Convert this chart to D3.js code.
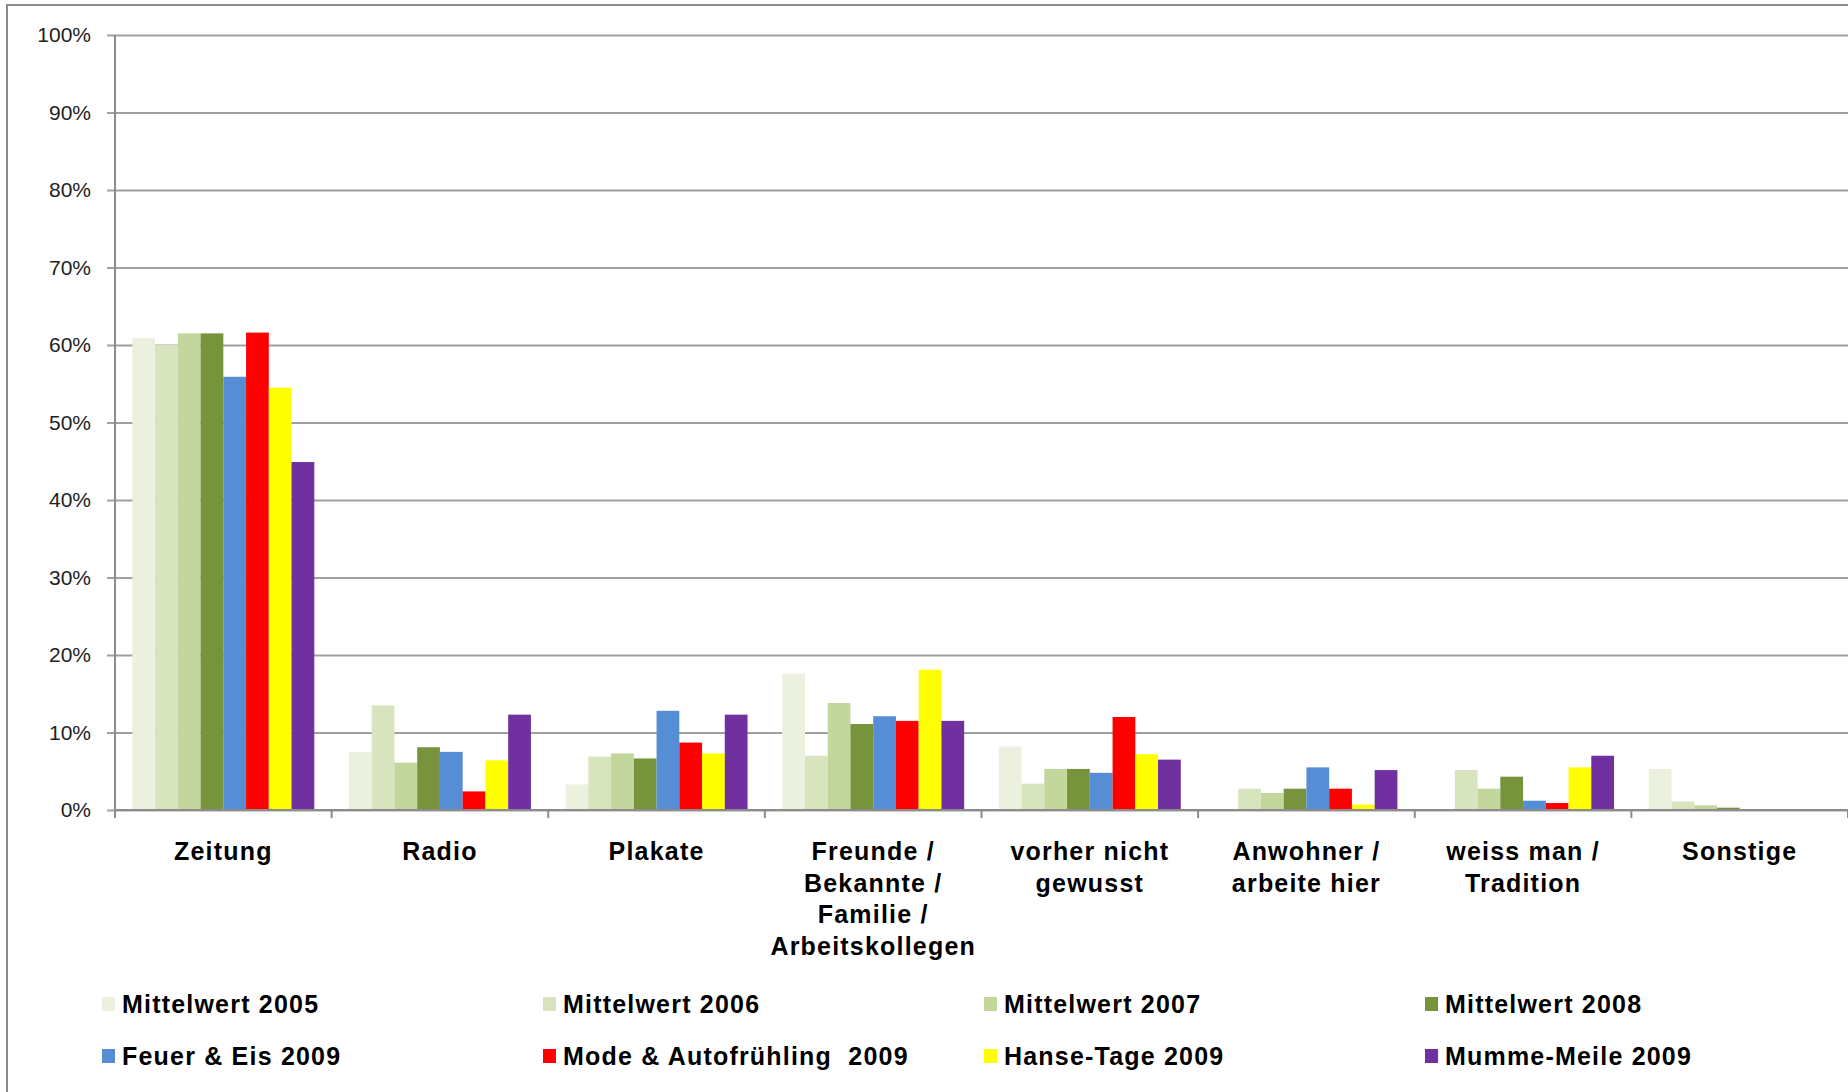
<!DOCTYPE html>
<html>
<head>
<meta charset="utf-8">
<script src="https://cdn.jsdelivr.net/npm/d3@7"></script>
<style>
  body { margin: 0; background: #fff; }
  svg { display: block; font-family: "Liberation Sans", Arial, sans-serif; }
</style>
</head>
<body>
<svg id="chart"></svg>
<script>
// Categories (x axis), line breaks as in the original
var categories = [
  ["Zeitung"],
  ["Radio"],
  ["Plakate"],
  ["Freunde /", "Bekannte /", "Familie /", "Arbeitskollegen"],
  ["vorher nicht", "gewusst"],
  ["Anwohner /", "arbeite hier"],
  ["weiss man /", "Tradition"],
  ["Sonstige"]
];

var seriesNames = [
  "Mittelwert 2005",
  "Mittelwert 2006",
  "Mittelwert 2007",
  "Mittelwert 2008",
  "Feuer & Eis 2009",
  "Mode & Autofrühling  2009",
  "Hanse-Tage 2009",
  "Mumme-Meile 2009"
];

var seriesColors = ["#ebf1de", "#d7e4bd", "#c3d69b", "#77933c", "#558ed5", "#ff0000", "#ffff00", "#7030a0"];

// Values in percent, one array per series, in category order
var mittelwert2005 = [60.9, 7.5, 3.3, 17.6, 8.2, 0, 0, 5.3];
var mittelwert2006 = [60.0, 13.5, 6.9, 7.0, 3.4, 2.75, 5.15, 1.1];
var mittelwert2007 = [61.5, 6.1, 7.3, 13.8, 5.3, 2.2, 2.75, 0.6];
var mittelwert2008 = [61.5, 8.1, 6.65, 11.1, 5.3, 2.75, 4.3, 0.3];
var feuerEis2009 = [55.9, 7.5, 12.8, 12.1, 4.8, 5.5, 1.2, 0];
var modeAuto2009 = [61.6, 2.4, 8.7, 11.5, 12.0, 2.75, 0.9, 0];
var hanseTage2009 = [54.5, 6.4, 7.3, 18.1, 7.2, 0.7, 5.5, 0];
var mummeMeile2009 = [44.9, 12.3, 12.3, 11.5, 6.5, 5.15, 7.0, 0];

var seriesValues = [mittelwert2005, mittelwert2006, mittelwert2007, mittelwert2008,
                    feuerEis2009, modeAuto2009, hanseTage2009, mummeMeile2009];

var yTicks = [0, 10, 20, 30, 40, 50, 60, 70, 80, 90, 100];

var width = 1848;
var height = 1092;
var margin = { left: 115, right: 0, top: 35, bottom: 282 };

var svg = d3.select("#chart").attr("width", width).attr("height", height);

// outer frame (right and bottom are cut off in the original)
svg.append("path")
  .attr("d", "M7,1092 L7,5 L1848,5")
  .attr("fill", "none")
  .attr("stroke", "#8c8c8c")
  .attr("stroke-width", 2);

var x0 = d3.scaleBand()
  .domain(d3.range(categories.length))
  .range([margin.left, width - margin.right])
  .paddingInner(0.16)
  .paddingOuter(0.08);

var x1 = d3.scaleBand()
  .domain(d3.range(seriesNames.length))
  .range([0, x0.bandwidth()]);

var y = d3.scaleLinear()
  .domain([0, 100])
  .range([height - margin.bottom, margin.top]);

// gridlines + y axis
var yAxis = d3.axisLeft(y)
  .tickValues(yTicks)
  .tickFormat(d => d + "%")
  .tickSize(-(width - margin.left - margin.right))
  .tickPadding(24);

var gy = svg.append("g")
  .attr("transform", "translate(" + margin.left + ",0)")
  .call(yAxis);
gy.select(".domain").remove();
gy.selectAll(".tick line")
  .attr("x1", -8)
  .attr("stroke", "#a0a0a0")
  .attr("stroke-width", 2);
gy.selectAll(".tick text")
  .attr("font-size", 21)
  .attr("fill", "#222")
  .attr("font-family", "Liberation Sans, Arial, sans-serif");

// y axis line
svg.append("line")
  .attr("x1", margin.left).attr("x2", margin.left)
  .attr("y1", y(100)).attr("y2", y(0) + 8)
  .attr("stroke", "#8c8c8c")
  .attr("stroke-width", 2);

// bars
var groups = svg.append("g")
  .selectAll("g")
  .data(categories)
  .enter()
  .append("g")
    .attr("transform", (d, i) => "translate(" + x0(i) + ",0)");

groups.selectAll("rect")
  .data((d, i) => seriesValues.map((vals, s) => ({ s: s, v: vals[i] })))
  .enter()
  .append("rect")
    .attr("x", d => x1(d.s))
    .attr("width", x1.bandwidth())
    .attr("y", d => y(d.v))
    .attr("height", d => y(0) - y(d.v))
    .attr("fill", d => seriesColors[d.s]);

// x axis line and category ticks
svg.append("line")
  .attr("x1", margin.left).attr("x2", width)
  .attr("y1", y(0)).attr("y2", y(0))
  .attr("stroke", "#8c8c8c")
  .attr("stroke-width", 2);

var step = x0.step();
svg.append("g")
  .selectAll("line")
  .data(d3.range(categories.length + 1))
  .enter()
  .append("line")
    .attr("x1", i => margin.left + i * step)
    .attr("x2", i => margin.left + i * step)
    .attr("y1", y(0))
    .attr("y2", y(0) + 8)
    .attr("stroke", "#8c8c8c")
    .attr("stroke-width", 2);

// category labels
var labels = svg.append("g")
  .selectAll("text")
  .data(categories)
  .enter()
  .append("text")
    .attr("text-anchor", "middle")
    .attr("font-size", 25)
    .attr("font-weight", "bold")
    .attr("letter-spacing", 1.2)
    .attr("fill", "#000")
    .attr("x", (d, i) => x0(i) + x0.bandwidth() / 2)
    .attr("y", 860);

labels.selectAll("tspan")
  .data(d => d)
  .enter()
  .append("tspan")
    .attr("x", function () { return this.parentNode.getAttribute("x"); })
    .attr("dy", (d, i) => i === 0 ? 0 : 31.5)
    .text(d => d);

// legend
var legendX = [102, 543, 984, 1425];
var legendY = [1004, 1056];

var legend = svg.append("g")
  .selectAll("g")
  .data(seriesNames)
  .enter()
  .append("g")
    .attr("transform", (d, i) => "translate(" + legendX[i % 4] + "," + legendY[Math.floor(i / 4)] + ")");

legend.append("rect")
  .attr("x", 0)
  .attr("y", -7)
  .attr("width", 13)
  .attr("height", 14)
  .attr("fill", (d, i) => seriesColors[i]);

legend.append("text")
  .attr("x", 20)
  .attr("y", 9)
  .attr("font-size", 25)
  .attr("font-weight", "bold")
  .attr("letter-spacing", 1.2)
  .attr("fill", "#000")
  .attr("xml:space", "preserve")
  .style("white-space", "pre")
  .text(d => d);
</script>
</body>
</html>
